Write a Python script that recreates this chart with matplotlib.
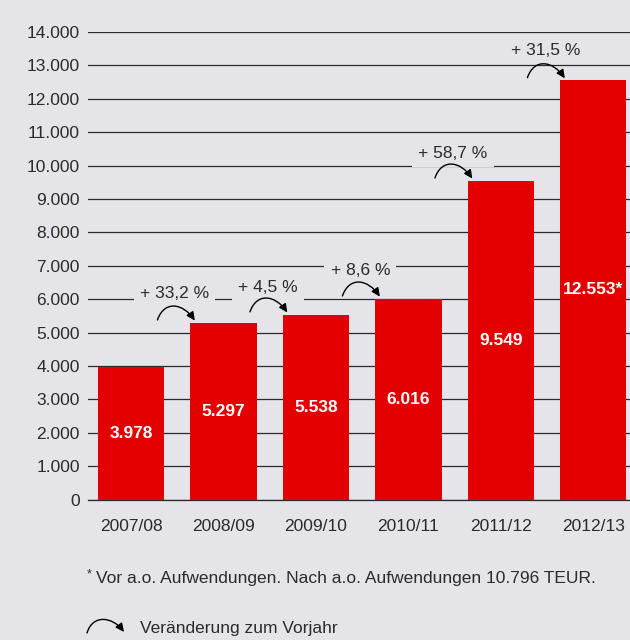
import math
import matplotlib
matplotlib.use("Agg")
import matplotlib.pyplot as plt
from matplotlib.ticker import FuncFormatter
from matplotlib.patches import FancyArrowPatch
from matplotlib.path import Path
from matplotlib.transforms import IdentityTransform

# Data
categories = ["2007/08", "2008/09", "2009/10", "2010/11", "2011/12", "2012/13"]
values = [3978, 5297, 5538, 6016, 9549, 12553]
bar_labels = ["3.978", "5.297", "5.538", "6.016", "9.549", "12.553*"]
change_labels = ["+ 33,2 %", "+ 4,5 %", "+ 8,6 %", "+ 58,7 %", "+ 31,5 %"]
change_label_y = [6180, 6360, 6870, 10370, 13460]
change_label_dx = [-0.53, -0.52, -0.52, -0.52, -0.52]
y_ticks = list(range(0, 14001, 1000))
footnote = "Vor a.o. Aufwendungen. Nach a.o. Aufwendungen 10.796 TEUR."
legend_text = "Veränderung zum Vorjahr"

BG = "#e4e4e9"
RED = "#e40000"
TXT = "#2b2b2b"
FONT = "Liberation Sans"

plt.rcParams['font.family'] = [FONT, 'DejaVu Sans']

fig = plt.figure(figsize=(6.3, 6.4), dpi=100, facecolor=BG)
ax = fig.add_axes([88/630, 140.5/640, 1 - 88/630, (499.5 - 32)/640])
ax.set_facecolor(BG)

x = list(range(len(categories)))
ax.bar(x, values, width=0.714, color=RED, zorder=2)

ax.set_xlim(-0.465, 5.395)
ax.set_ylim(0, 14000)
ax.set_yticks(y_ticks)
ax.yaxis.set_major_formatter(FuncFormatter(lambda v, p: f"{int(v):,}".replace(",", ".")))
ax.set_xticks(x)
ax.set_xticklabels(categories)
ax.tick_params(axis='both', length=0, labelsize=12.5, labelcolor=TXT)
ax.tick_params(axis='y', pad=5.8)
ax.tick_params(axis='x', pad=14)
for s in ax.spines.values():
    s.set_visible(False)
ax.yaxis.grid(True, color="#2a2a2a", linewidth=0.9)
ax.axhline(0, color="#2a2a2a", linewidth=0.9, clip_on=False, zorder=0.6)
ax.set_axisbelow(True)


def arc_arrow(p0, p3, sag, angA=72, angB=55):
    """Curved arrow (cubic bezier) in display pixels from p0 to p3."""
    dx, dy = p3[0] - p0[0], p3[1] - p0[1]
    c = math.hypot(dx, dy)
    ux, uy = dx / c, dy / c
    nx, ny = -uy, ux
    a, b = math.radians(angA), math.radians(angB)
    k = sag / (0.375 * (math.sin(a) + math.sin(b)))
    p1 = (p0[0] + k * (math.cos(a) * ux + math.sin(a) * nx),
          p0[1] + k * (math.cos(a) * uy + math.sin(a) * ny))
    p2 = (p3[0] + k * (-math.cos(b) * ux + math.sin(b) * nx),
          p3[1] + k * (-math.cos(b) * uy + math.sin(b) * ny))
    path = Path([p0, p1, p2, p3], [Path.MOVETO, Path.CURVE4, Path.CURVE4, Path.CURVE4])
    patch = FancyArrowPatch(path=path, transform=IdentityTransform(),
                            arrowstyle='-|>,head_length=0.5,head_width=0.24',
                            mutation_scale=10, color='black', lw=1.0, zorder=5)
    fig.add_artist(patch)


# Bar value labels
for xi, v, lab in zip(x, values, bar_labels):
    ax.text(xi, v / 2, lab, ha='center', va='center', color='white',
            fontsize=12.5, fontweight='bold', zorder=4)

# Change annotations
for i, lab in enumerate(change_labels):
    nxt = i + 1
    ax.text(nxt + change_label_dx[i], change_label_y[i], lab, ha='center', va='center',
            fontsize=12.5, color=TXT, zorder=3,
            bbox=dict(facecolor=BG, edgecolor='none', pad=4.5))
    y0 = values[nxt] + 80
    p0 = ax.transData.transform((nxt - 0.714, y0))
    p3 = ax.transData.transform((nxt - 0.31, y0 - 20))
    arc_arrow(tuple(p0), tuple(p3), 14)

# Footnote
fig.text(87/630, 1 - 574/640, "*", fontsize=9, color=TXT, ha='left', va='center')
fig.text(96/630, 1 - 578/640, footnote, fontsize=12.5, color=TXT, ha='left', va='center')

# Legend arc
arc_arrow((87, 640 - 633), (124, 640 - 632), 13)
fig.text(140/630, 1 - 628/640, legend_text, fontsize=12.5, color=TXT, ha='left', va='center')

fig.savefig("out.png", dpi=100, facecolor=BG)
